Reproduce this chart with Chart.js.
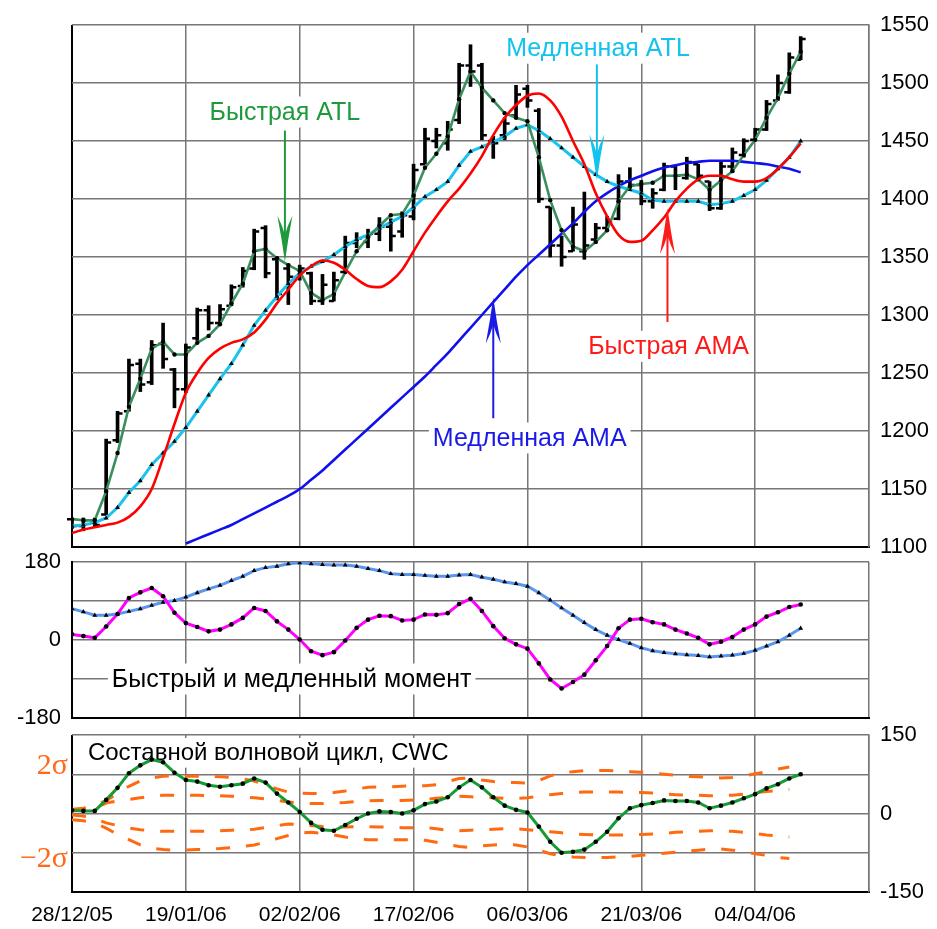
<!DOCTYPE html>
<html><head><meta charset="utf-8">
<script src="https://cdn.jsdelivr.net/npm/chart.js@4"></script>
<style>
html,body{margin:0;padding:0;background:#fff;}
body{width:937px;height:929px;position:relative;overflow:hidden;}
canvas{position:absolute;left:0;}
</style></head><body>
<canvas id="c1" style="top:0" width="937" height="577"></canvas>
<canvas id="c2" style="top:530px" width="937" height="218"></canvas>
<canvas id="c3" style="top:703px" width="937" height="226"></canvas>
<script>
// ---------- DATA ----------
const tickLabels = ['28/12/05','19/01/06','02/02/06','17/02/06','06/03/06','21/03/06','04/04/06'];

const openP  = [1124,1118,1123,1128,1192,1217,1258,1242,1275,1253, 1236,1280,1304,1293,1308,1325,1340,1375,1348,1340, 1333,1336,1312,1312,1337,1362,1363,1370,1376,1372, 1385,1430,1450,1448,1468,1515,1515,1450,1455,1472, 1495,1476,1393,1360,1355,1355,1365,1375,1383,1415, 1412,1398,1408,1428,1418,1430,1415,1392,1428,1438, 1451,1460,1485,1492,1520];
const highP  = [1125,1125,1125,1193,1217,1262,1262,1278,1293,1254, 1275,1306,1308,1309,1326,1341,1374,1377,1350,1344, 1343,1337,1335,1337,1368,1371,1374,1384,1383,1389, 1430,1461,1461,1467,1517,1533,1517,1454,1470,1498, 1498,1478,1393,1368,1393,1406,1379,1385,1421,1427, 1416,1409,1431,1429,1436,1430,1415,1432,1444,1452, 1461,1485,1507,1526,1540];
const lowP   = [1116,1114,1117,1128,1190,1217,1234,1240,1254,1220, 1233,1278,1287,1293,1308,1324,1339,1332,1313,1309, 1330,1309,1309,1312,1337,1358,1358,1364,1355,1367, 1382,1430,1444,1442,1465,1497,1451,1435,1451,1471, 1479,1397,1350,1342,1355,1348,1362,1373,1382,1408, 1395,1392,1407,1408,1417,1416,1390,1391,1423,1436, 1451,1459,1485,1491,1520];
const closeP = [1118,1123,1119,1190,1215,1257,1240,1274,1262,1236, 1272,1304,1293,1305,1324,1338,1372,1336,1318,1333, 1340,1312,1326,1330,1362,1366,1370,1376,1368,1386, 1425,1452,1455,1460,1515,1510,1455,1448,1465,1490, 1485,1400,1360,1350,1378,1360,1375,1380,1415,1412, 1398,1405,1428,1420,1432,1420,1392,1428,1440,1450, 1460,1482,1500,1522,1538];

const fastATL = [1124,1123,1123,1148,1181,1221,1245,1271,1277,1266, 1266,1276,1282,1292,1310,1327,1355,1357,1349,1343, 1338,1319,1313,1318,1337,1355,1367,1377,1386,1387, 1403,1427,1439,1454,1486,1510,1496,1485,1474,1470, 1467,1436,1399,1373,1359,1355,1363,1373,1398,1411, 1413,1414,1420,1420,1421,1417,1408,1416,1424,1438, 1451,1470,1487,1508,1527];
const slowATL = [1118,1119,1121,1125,1134,1147,1157,1171,1181,1191, 1203,1217,1231,1245,1258,1274,1291,1304,1316,1327, 1336,1342,1346,1352,1359,1365,1369,1375,1380,1385, 1393,1402,1408,1415,1429,1441,1445,1449,1454,1461, 1464,1459,1452,1444,1436,1428,1421,1415,1411,1408, 1405,1399,1398,1398,1398,1398,1395,1396,1398,1403, 1408,1416,1426,1436,1450];
const fastAMA = [1112,1115,1117,1119,1121,1126,1135,1150,1177,1206, 1233,1250,1263,1271,1276,1279,1285,1296,1310,1322, 1334,1342,1347,1345,1339,1331,1325,1324,1329,1339, 1355,1371,1385,1398,1409,1422,1437,1455,1470,1481, 1489,1491,1485,1471,1450,1430,1405,1385,1369,1363, 1364,1373,1384,1398,1409,1417,1420,1420,1417,1415, 1415,1418,1426,1436,1448];
const slowAMAStart = 10;
const slowAMA = [1103,1107,1111,1115,1119,1124,1129,1134,1139,1144, 1150,1158,1166,1175,1184,1193,1202,1211,1220,1229, 1238,1247,1257,1267,1278,1289,1300,1311,1322,1333, 1343,1352,1361,1370,1379,1389,1398,1405,1411,1416, 1420,1424,1427,1429,1431,1432,1433,1433,1433,1432, 1431,1430,1428,1426,1423];

const fastMom = [13,9,5,31,60,97,110,120,101,63, 39,30,20,24,36,51,74,67,43,24, 1,-26,-35,-28,-1,28,47,56,55,45, 47,59,58,62,83,95,67,32,4,-10, -20,-54,-91,-112,-97,-80,-47,-14,27,47, 49,41,36,24,15,5,-10,-4,7,24, 36,54,64,76,82];
const slowMom = [72,65,57,57,60,66,72,80,87,91, 99,109,118,126,137,147,160,167,170,176, 178,176,174,173,173,170,165,160,153,151, 151,149,147,147,150,151,145,140,134,130, 124,109,92,74,57,40,24,11,1,-8, -18,-25,-29,-32,-34,-36,-39,-37,-35,-31, -24,-14,-4,11,27];

const cwc = [6,5,5,26,49,77,92,103,98,78, 64,61,54,51,54,57,67,59,38,21, 3,-18,-31,-33,-22,-10,0,4,3,0, 6,18,23,31,50,64,50,31,15,7, 2,-25,-54,-75,-73,-69,-54,-35,-9,10, 16,20,25,24,24,21,10,15,21,29, 37,48,56,67,75];
const bandUp2 = [8,10,15,25,38,52,62,68,71,72, 71,71,71,70,69,66,62,55,47,41, 39,38,38,40,43,47,50,51,51,52, 53,53,55,61,67,68,64,61,60,59, 58,63,72,77,80,82,82,82,81,80, 79,77,75,73,71,70,69,68,69,72, 76,80,85,89];
const bandUp1 = [5,6,10,20,24,27,30,33,35,35, 35,35,34,34,33,32,30,28,25,22, 20,19,19,20,21,23,24,25,25,25, 26,27,29,31,33,32,31,30,29,29, 30,33,36,38,40,41,41,41,41,40, 40,39,37,36,35,35,34,34,35,37, 40,42,44,46];
const bandLo1 = [-3,-5,-10,-18,-23,-28,-31,-33,-34,-34, -34,-34,-34,-33,-32,-31,-30,-27,-23,-20, -21,-23,-25,-26,-26,-25,-25,-26,-26,-27, -27,-27,-29,-32,-33,-32,-31,-30,-29,-29, -31,-33,-35,-37,-39,-40,-41,-41,-41,-41, -40,-39,-38,-36,-35,-34,-33,-33,-34,-36, -38,-41,-43,-45];
const bandLo2 = [-12,-14,-18,-28,-40,-50,-60,-66,-69,-70, -70,-69,-68,-67,-65,-63,-60,-55,-48,-42, -37,-36,-38,-41,-45,-48,-50,-50,-50,-50, -50,-51,-55,-59,-63,-65,-62,-60,-59,-60, -64,-70,-77,-81,-83,-84,-84,-84,-83,-82, -80,-78,-76,-74,-72,-70,-68,-68,-70,-73, -77,-80,-84,-86];

// ---------- STYLE / HELPERS ----------
const FONT = "'Liberation Sans', Arial, sans-serif";
Chart.defaults.font.family = FONT;
Chart.defaults.color = '#000';
const GRID = '#777';
const xy = (arr, start = 0) => arr.map((v, i) => ({ x: i + start, y: v }));

function xScale(showLabels) {
  return {
    type: 'linear', min: 0, max: 70, offset: false,
    ticks: { stepSize: 10, display: showLabels, autoSkip: false, maxRotation: 0, padding: 11,
             color: '#000', font: { size: 21 },
             callback: v => tickLabels[Math.round(v / 10)] ?? '' },
    grid: { offset: false, drawTicks: false,
            color: c => (c.tick && c.tick.value === 0) ? '#000' : GRID,
            lineWidth: c => (c.tick && c.tick.value === 0) ? 2 : 1.5 },
    border: { color: '#000', width: 2 },
    afterFit: s => { s.height = showLabels ? 37 : 0; }
  };
}
function yScale(pos, min, max, step, shown, width) {
  return {
    type: 'linear', position: pos, min, max,
    ticks: { stepSize: step, padding: 11, color: '#000', font: { size: 22 },
             callback: v => (shown === null || shown.includes(v)) ? String(v) : '' },
    grid: { color: GRID, lineWidth: 1.5, drawTicks: false },
    border: { color: pos === 'left' ? '#000' : GRID, width: pos === 'left' ? 2 : 1.5 },
    afterFit: s => { s.width = width; }
  };
}
const baseOpts = { responsive: false, animation: false, events: [],
  plugins: { legend: { display: false }, tooltip: { enabled: false } } };

function labelBox(ctx, text, x, y, color, align, size) {
  ctx.save();
  ctx.font = `${size}px ${FONT}`;
  const w = ctx.measureText(text).width;
  const left = align === 'center' ? x - w / 2 : x;
  ctx.fillStyle = '#fff';
  ctx.fillRect(left - 4, y - size * 0.62, w + 8, size * 1.24);
  ctx.fillStyle = color; ctx.textAlign = 'left'; ctx.textBaseline = 'middle';
  ctx.fillText(text, left, y + 1);
  ctx.restore();
}
function drawArrow(ctx, x, yFrom, yTo, color) {
  const d = Math.sign(yTo - yFrom);
  ctx.save();
  ctx.strokeStyle = color; ctx.fillStyle = color; ctx.lineWidth = 2;
  ctx.beginPath(); ctx.moveTo(x, yFrom); ctx.lineTo(x, yTo - d * 20); ctx.stroke();
  ctx.beginPath();
  ctx.moveTo(x, yTo);
  ctx.quadraticCurveTo(x - 3, yTo - d * 22, x - 7.5, yTo - d * 46);
  ctx.quadraticCurveTo(x - 2.5, yTo - d * 36, x, yTo - d * 27);
  ctx.quadraticCurveTo(x + 2.5, yTo - d * 36, x + 7.5, yTo - d * 46);
  ctx.quadraticCurveTo(x + 3, yTo - d * 22, x, yTo);
  ctx.fill();
  ctx.restore();
}

// annotation anchors in data units (index, value)
const topNotes = [
  { text: 'Быстрая ATL',   color: '#1e9a3c', tx: 18.7, ty: 1475, ax: 18.7, from: 1459, to: 1346 },
  { text: 'Медленная ATL', color: '#12c3ee', tx: 46.2, ty: 1530, ax: 46.1, from: 1516, to: 1416 },
  { text: 'Быстрая AMA',   color: '#ff1a1a', tx: 52.4, ty: 1273, ax: 52.3, from: 1294, to: 1392 },
  { text: 'Медленная AMA', color: '#1a1ae6', tx: 40.2, ty: 1194, ax: 37.0, from: 1211, to: 1315 }
];

// ---------- TOP PANEL ----------
const ohlcTicks = {
  id: 'ohlcTicks',
  afterDatasetDraw(chart, args) {
    if (args.meta.type !== 'bar') return;
    const { ctx, scales: { x, y } } = chart;
    ctx.save(); ctx.strokeStyle = '#000'; ctx.lineWidth = 2.5;
    openP.forEach((o, i) => {
      const px = x.getPixelForValue(i);
      const po = y.getPixelForValue(o), pc = y.getPixelForValue(closeP[i]);
      ctx.beginPath();
      ctx.moveTo(px - 5, po); ctx.lineTo(px, po);
      ctx.moveTo(px, pc); ctx.lineTo(px + 5, pc);
      ctx.stroke();
    });
    ctx.restore();
  }
};
const topNotesPlugin = {
  id: 'topNotes',
  afterDraw(chart) {
    const { ctx, scales: { x, y } } = chart;
    topNotes.forEach(n => {
      drawArrow(ctx, x.getPixelForValue(n.ax), y.getPixelForValue(n.from), y.getPixelForValue(n.to), n.color);
      labelBox(ctx, n.text, x.getPixelForValue(n.tx), y.getPixelForValue(n.ty), n.color, 'center', 25);
    });
  }
};
new Chart(document.getElementById('c1'), {
  type: 'bar',
  data: { datasets: [
    { type: 'line', data: xy(fastAMA), borderColor: '#ff0000', borderWidth: 2.6, pointRadius: 0,
      cubicInterpolationMode: 'monotone', order: 1 },
    { type: 'line', data: xy(fastATL), borderColor: '#3a8f5e', borderWidth: 2.6, pointRadius: 2.2,
      pointBackgroundColor: '#000', pointBorderWidth: 0, tension: 0, order: 2 },
    { type: 'line', data: xy(slowATL), borderColor: '#19c3ec', borderWidth: 3, pointRadius: 2.8,
      pointStyle: 'triangle', pointBackgroundColor: '#000', pointBorderWidth: 0, tension: 0, order: 3 },
    { type: 'line', data: xy(slowAMA, slowAMAStart), borderColor: '#1010ee', borderWidth: 2.6, pointRadius: 0,
      cubicInterpolationMode: 'monotone', order: 4 },
    { type: 'bar', data: lowP.map((l, i) => ({ x: i, y: [l, highP[i]] })), backgroundColor: '#000',
      barThickness: 3, grouped: false, order: 10 }
  ] },
  options: Object.assign({}, baseOpts, {
    layout: { padding: { left: 72, right: 0, top: 25, bottom: 30 } },
    scales: { x: xScale(false), y: yScale('right', 1100, 1550, 50, null, 68) }
  }),
  plugins: [ohlcTicks, topNotesPlugin]
});

// ---------- MIDDLE PANEL ----------
new Chart(document.getElementById('c2'), {
  type: 'line',
  data: { datasets: [
    { data: xy(fastMom), borderColor: '#ff00ff', borderWidth: 3, pointRadius: 2.3,
      pointBackgroundColor: '#000', pointBorderWidth: 0, order: 1 },
    { data: xy(slowMom), borderColor: '#5a96f0', borderWidth: 3, pointRadius: 2.8, pointStyle: 'triangle',
      pointBackgroundColor: '#000', pointBorderWidth: 0, order: 2 }
  ] },
  options: Object.assign({}, baseOpts, {
    layout: { padding: { left: 0, right: 68, top: 32, bottom: 30 } },
    scales: { x: xScale(false), y: yScale('left', -180, 180, 90, [180, 0, -180], 72) }
  }),
  plugins: [{
    id: 'momLabel',
    beforeDatasetsDraw(chart) {
      const { ctx, scales: { x, y } } = chart;
      labelBox(ctx, 'Быстрый и медленный момент', x.getPixelForValue(3.5), y.getPixelForValue(-90), '#000', 'left', 25);
    }
  }]
});

// ---------- BOTTOM PANEL ----------
const bandStyle = { borderColor: '#ff6a10', borderWidth: 3, borderDash: [14, 16], pointRadius: 0, order: 5 };
new Chart(document.getElementById('c3'), {
  type: 'line',
  data: { datasets: [
    { data: xy(cwc), borderColor: '#169a34', borderWidth: 3, pointRadius: 2.3,
      pointBackgroundColor: '#000', pointBorderWidth: 0, order: 1 },
    Object.assign({ data: xy(bandUp2) }, bandStyle),
    Object.assign({ data: xy(bandUp1) }, bandStyle),
    Object.assign({ data: xy(bandLo1) }, bandStyle),
    Object.assign({ data: xy(bandLo2) }, bandStyle)
  ] },
  options: Object.assign({}, baseOpts, {
    layout: { padding: { left: 72, right: 0, top: 32, bottom: 0 } },
    scales: { x: xScale(true), y: yScale('right', -150, 150, 75, [150, 0, -150], 68) }
  }),
  plugins: [{
    id: 'cwcLabels',
    beforeDatasetsDraw(chart) {
      const { ctx, scales: { x, y } } = chart;
      labelBox(ctx, 'Составной волновой цикл, CWC', x.getPixelForValue(1.4), y.getPixelForValue(116), '#000', 'left', 24);
    },
    afterDraw(chart) {
      const { ctx, scales: { x, y } } = chart;
      ctx.save();
      ctx.fillStyle = '#ff6a1a';
      ctx.font = "30px 'Liberation Serif', 'Times New Roman', serif";
      ctx.textAlign = 'right'; ctx.textBaseline = 'middle';
      ctx.fillText('2σ', x.left - 4, y.getPixelForValue(90));
      ctx.fillText('−2σ', x.left - 4, y.getPixelForValue(-87));
      ctx.restore();
    }
  }]
});
</script>
</body></html>
